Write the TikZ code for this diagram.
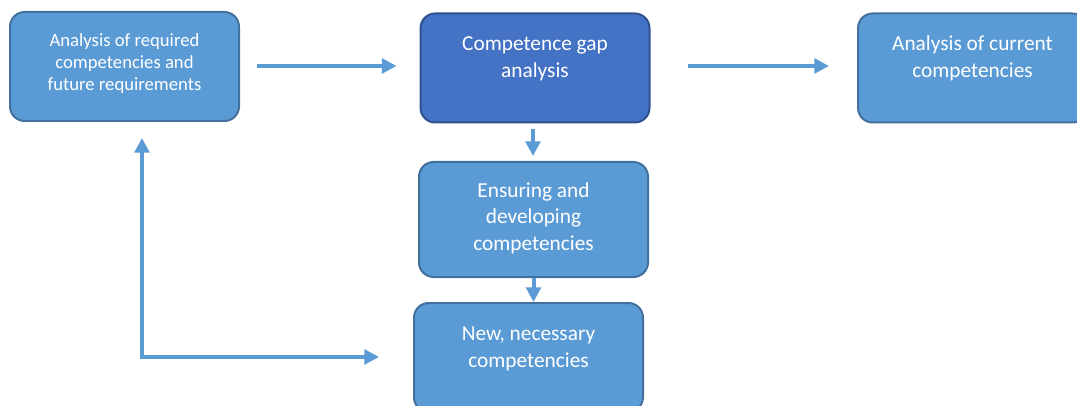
\documentclass[tikz,border=0pt]{standalone}
\usepackage{fontspec}
\setmainfont{Carlito}
\usetikzlibrary{arrows.meta}
\definecolor{boxfill}{HTML}{5B9BD5}
\definecolor{boxline}{HTML}{41719C}
\definecolor{gapfill}{HTML}{4472C4}
\definecolor{gapline}{HTML}{2F528F}
\newcommand{\boxcol}{boxfill}
\newcommand{\gapcol}{gapfill}

\begin{document}
\begin{tikzpicture}[x=0.75pt, y=-0.75pt,
    box/.style={draw=boxline, fill=\boxcol, line width=1.5pt, rounded corners=11pt,
      minimum width=171.75pt, minimum height=81.75pt},
    txt/.style={white, align=center, font=\fontsize{16}{20}\selectfont},
    flow/.style={draw=\boxcol, line width=3pt, -{Triangle[length=11pt,width=11pt]}}]

    \useasboundingbox (0, 0) rectangle (1077, 406);

    \node[box] (req) at (124.5, 66.5) {};
    \node[box, draw=gapline, fill=\gapcol] (gap) at (535, 68) {};
    \node[box] (cur) at (972.5, 68) {};
    \node[box, minimum height=86.25pt] (dev) at (533.5, 219.5) {};
    \node[box] (new) at (528.5, 357.5) {};

    \node[txt, font=\fontsize{14}{16.5}\selectfont] (reqtxt) at ([yshift=2.25pt]req.center)
      {Analysis of required\\competencies and\\future requirements};
    \node[txt] (gaptxt) at ([yshift=7pt]gap.center) {Competence gap\\analysis};
    \node[txt] (curtxt) at ([yshift=7.5pt]cur.center) {Analysis of current\\competencies};
    \node[txt] (devtxt) at ([yshift=1pt]dev.center) {Ensuring and\\developing\\competencies};
    \node[txt] (newtxt) at ([yshift=6.5pt]new.center) {New, necessary\\competencies};

    \coordinate (loop) at (142, 357);

    \draw[flow, shorten <=12.75pt, shorten >=17.25pt] ([yshift=0.4pt]req.east) -- ([yshift=0.4pt]req.east -| gap.west);
    \draw[flow, shorten <=27.75pt, shorten >=21pt] ([yshift=1.5pt]gap.east) -- ([yshift=1.5pt]gap.east -| cur.west);
    \draw[flow, shorten <=4.1pt, shorten >=3.75pt] ([xshift=-1.5pt]gap.south) -- ([xshift=-1.5pt]gap.south |- dev.north);
    \draw[flow] (dev.south) -- (dev.south |- new.north);

    % retour
    \draw[flow, {Triangle[length=11pt,width=11pt]}-{Triangle[length=11pt,width=11pt]},
      shorten <=12pt, shorten >=25.5pt] (req.south -| loop) |- (new.west |- loop);

\end{tikzpicture}
\end{document}
